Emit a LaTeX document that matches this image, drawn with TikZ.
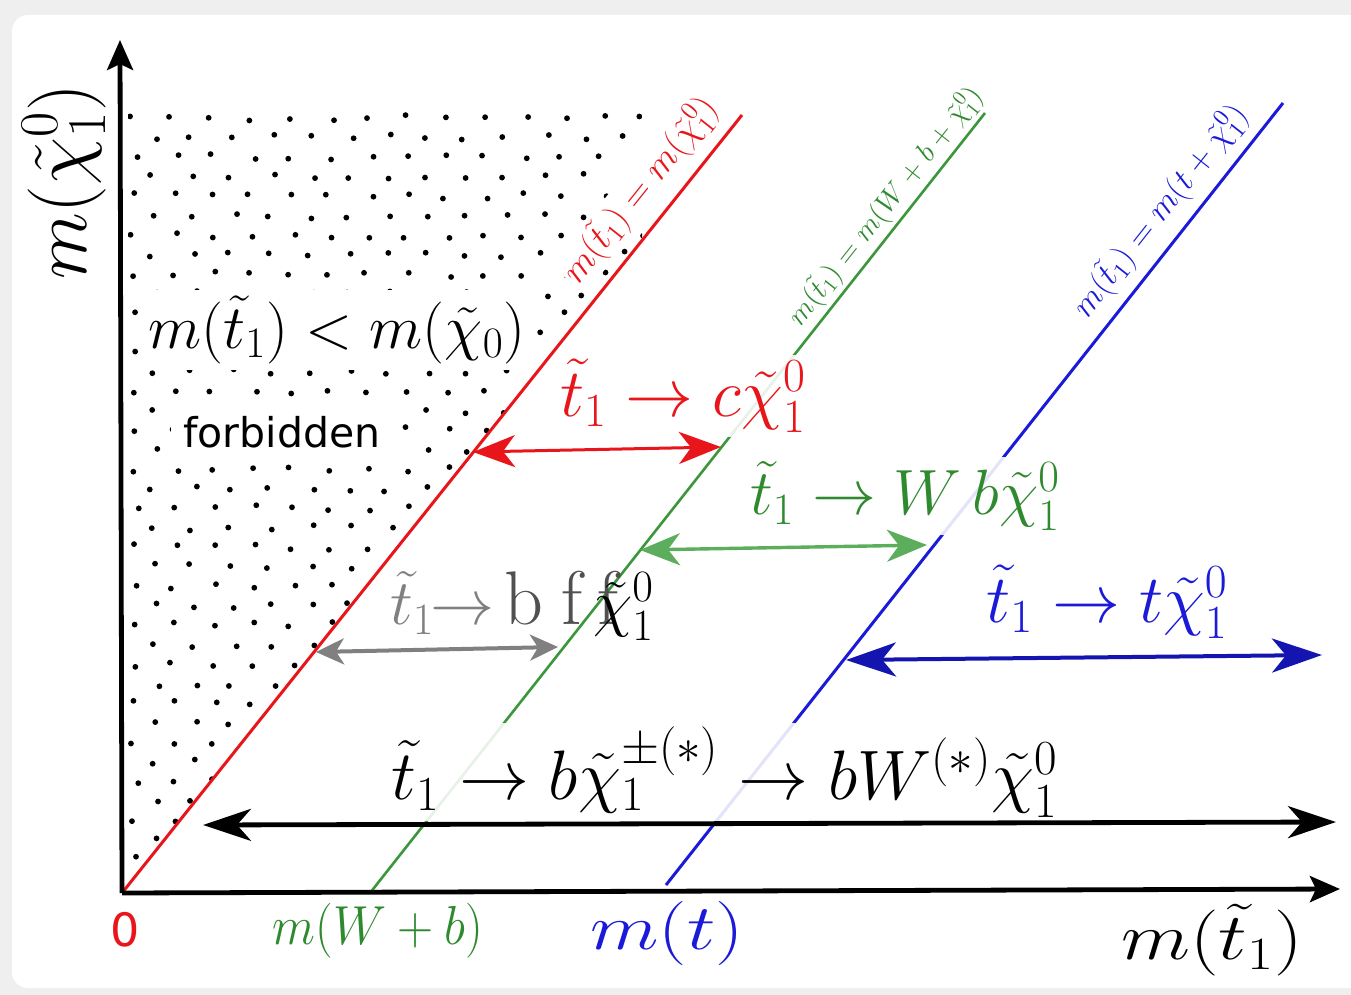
\RequirePackage{fix-cm}
\documentclass[tikz,border=0pt]{standalone}
\usepackage{fontspec}
\newfontfamily\dvs{DejaVu Sans}
\usetikzlibrary{arrows.meta}
\definecolor{myred}{HTML}{E8161B}
\definecolor{mygreen}{HTML}{3C963C}
\definecolor{mygreentext}{HTML}{2F8A2F}
\definecolor{mygreenarr}{HTML}{5CAE5C}
\definecolor{myblue}{HTML}{1A1AD8}
\definecolor{mybluearr}{HTML}{1414B0}
\definecolor{mygray}{HTML}{808080}
\definecolor{mydarkgray}{HTML}{505050}
\definecolor{bggray}{HTML}{EFEFEF}
\newcommand\setfs[1]{\fontsize{#1}{#1}\selectfont}
\tikzset{
  decay/.style={fill=white, fill opacity=0.88, text opacity=1, inner sep=2pt},
  rotlab/.style={fill=white, inner sep=1pt},
  mline/.style={line width=1.5pt},
  darr/.style={line width=1.6pt},
  axisline/.style={line width=2.4pt, -{Stealth[length=15pt,width=13pt,inset=3pt]}},
}
\begin{document}
\begin{tikzpicture}[x=0.5pt,y=-0.5pt]
\useasboundingbox (0,0) rectangle (1351,995);
\fill[bggray] (0,0) rectangle (1351,995);
\fill[white, rounded corners=8pt] (12,15) rectangle (1380,988);

% coordinates
\coordinate (O) at (122,893);
\coordinate (xend) at (1340,889);
\coordinate (yend) at (120,40);
\coordinate (R1) at (742,115);
\coordinate (G0) at (370,893);
\coordinate (G1) at (985,113);
\coordinate (B0) at (666,885);
\coordinate (B1) at (1283,103);

% forbidden dots
\begin{scope}
\clip (128,110) -- (642,110) -- (642,242) -- (O) -- (128,893) -- cycle;
\pgfmathsetseed{23}
\foreach \r in {0,...,40}{
  \foreach \c in {0,...,13}{
    \pgfmathsetmacro\dx{135+39*\c+19.5*mod(\r,2)+5*rand}
    \pgfmathsetmacro\dy{118+19.5*\r+3*rand}
    \fill (\dx,\dy) circle (2.9);
  }
}
\end{scope}

% boundary lines
\draw[mline, myred] (O) -- (R1);
\draw[mline, mygreen, line width=1.3pt] (G0) -- (G1);
\draw[mline, myblue] (B0) -- (B1);

% rotated line labels
\node[rotlab, text=myred, rotate=51.4, font=\setfs{18.5}] (rl) at (640,190) {$m(\tilde t_1)=m(\tilde\chi^0_1)$};
\node[rotlab, text=mygreentext, rotate=51.7, font=\setfs{14.5}] (gl) at (885,206) {$m(\tilde t_1)=m(W+b+\tilde\chi^0_1)$};
\node[rotlab, text=myblue, rotate=51.7, font=\setfs{17}] (bl) at (1160,211) {$m(\tilde t_1)=m(t+\tilde\chi^0_1)$};

% forbidden labels
\node[fill=white, inner sep=3pt, font=\setfs{31}] (ineq) at (337,330) {$m(\tilde t_1) < m(\tilde\chi_0)$};
\node[fill=white, inner sep=6pt, font=\dvs\setfs{20.5}] (forb) at (282,432) {forbidden};

% decay labels
\node[decay, text=myred, font=\setfs{34}] (lc) at (683,396) {$\tilde t_1 \rightarrow c\tilde\chi^0_1$};
\node[decay, text=mygreentext, font=\setfs{32}] (lw) at (905,496) {$\tilde t_1 \rightarrow W\,b\tilde\chi^0_1$};
\node[decay, text=myblue, font=\setfs{34}] (lt) at (1107,602) {$\tilde t_1 \rightarrow t\tilde\chi^0_1$};
\node[decay, font=\setfs{35}] (lb) at (725,772) {$\tilde t_1 \rightarrow b\tilde\chi^{\pm(*)}_1 \rightarrow bW^{(*)}\tilde\chi^0_1$};
\node[inner sep=0pt, font=\setfs{32}] (lf) at (522,606) {\textcolor{mygray}{$\tilde t_1\!\!\rightarrow$}\kern0.15em{\setfs{38}\color{mydarkgray}b\kern0.24em f\kern0.2em f}\kern-0.4em$\tilde\chi^0_1$};

% range arrows
\coordinate (ra) at (473,452);
\coordinate (rb) at (721,447);
\draw[darr, myred, line width=1.5pt, arrows={Stealth[length=21pt,width=16pt,inset=6pt]-Stealth[length=21pt,width=16pt,inset=6pt]}] (ra) -- (rb);
\coordinate (ga) at (640,550);
\coordinate (gb) at (927,545);
\draw[darr, mygreenarr, line width=1.7pt, arrows={Stealth[length=20pt,width=16pt,inset=6pt]-Stealth[length=20pt,width=16pt,inset=6pt]}] (ga) -- (gb);
\coordinate (fa) at (316,652);
\coordinate (fb) at (558,647);
\draw[darr, mygray, line width=2pt, arrows={Stealth[length=14pt,width=13pt,inset=4pt]-Stealth[length=14pt,width=13pt,inset=4pt]}] (fa) -- (fb);
\coordinate (ta) at (846,660);
\coordinate (tb) at (1322,655);
\draw[darr, mybluearr, line width=2pt, arrows={Stealth[length=25pt,width=17pt,inset=7pt]-Stealth[length=25pt,width=17pt,inset=7pt]}] (ta) -- (tb);
\coordinate (ba) at (203,825);
\coordinate (bb) at (1336,822);
\draw[darr, black, line width=2.4pt, arrows={Stealth[length=24pt,width=16pt,inset=7pt]-Stealth[length=24pt,width=16pt,inset=7pt]}] (ba) -- (bb);

% axes
\draw[axisline] (O) -- (xend);
\draw[axisline] (O) -- (yend);

% axis labels
\node[rotate=90, font=\setfs{39}] (ylab) at (64,182) {$m(\tilde\chi^0_1)$};
\node[font=\setfs{33}] (xlab) at (1212,940) {\scalebox{1.22}[1]{$m(\tilde t_1)$}};
\node[text=myblue, font=\setfs{32}] (mt) at (667,933) {\scalebox{1.25}[1]{$m(t)$}};
\node[text=mygreentext, font=\setfs{27.5}] (mwb) at (378,931) {\scalebox{0.91}[1]{$m(W+b)$}};
\node[text=myred, font=\dvs\setfs{23}] (zero) at (125,930) {0};
\end{tikzpicture}
\end{document}
